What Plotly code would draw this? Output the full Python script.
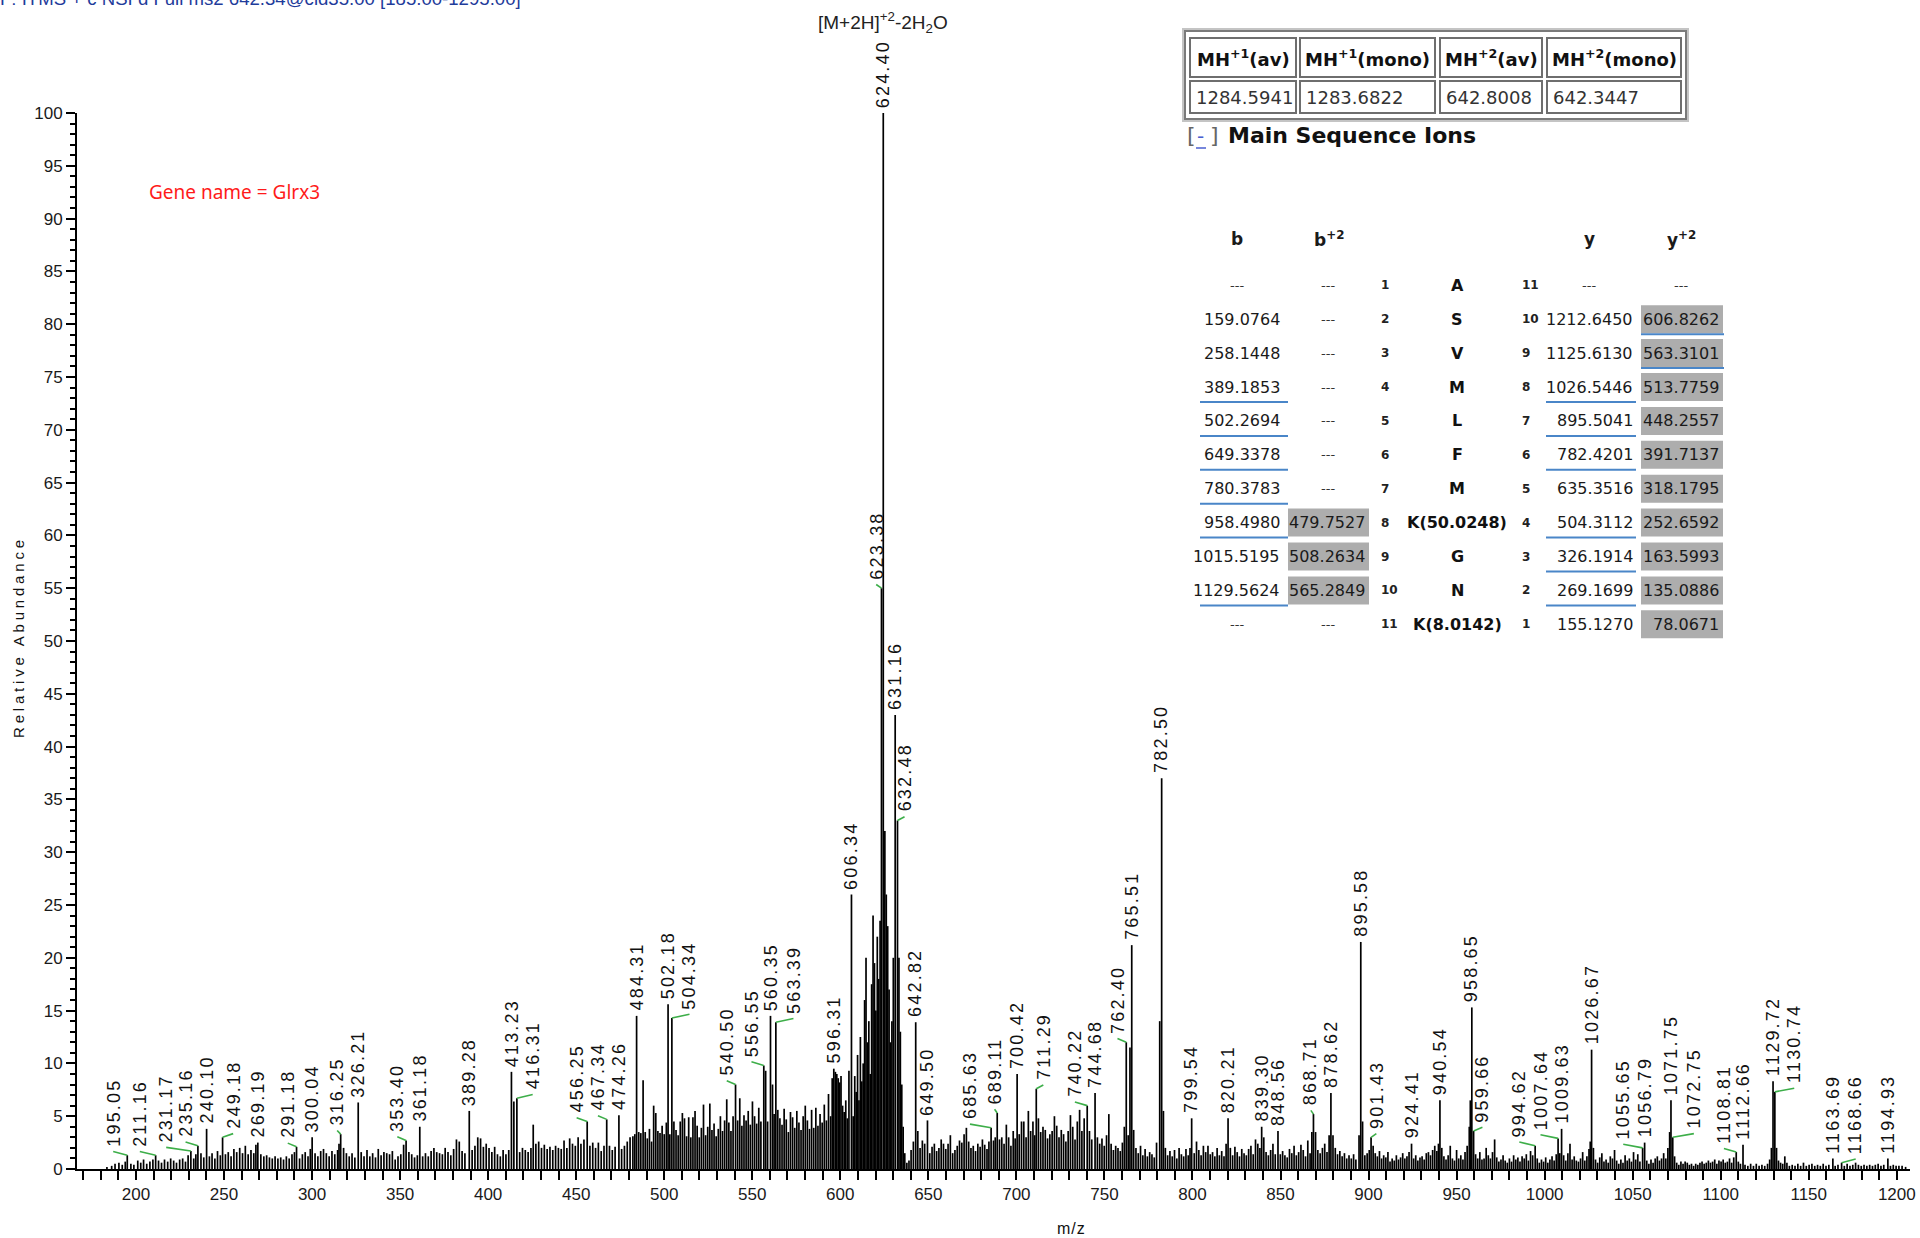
import plotly.graph_objects as go

# ---------------------------------------------------------------------------
# MS/MS spectrum (centroid sticks): (m/z, relative abundance) grouped by range
# ---------------------------------------------------------------------------
peaks_180_330 = [
    (183.5, 0.2), (186.2, 0.3), (188.1, 0.5), (190.3, 0.6), (192.2, 0.4), (193.9, 0.7),
    (195.05, 1.3), (197.1, 0.5), (198.8, 0.4), (201.0, 0.8), (202.7, 0.6), (204.3, 0.9),
    (206.1, 0.5), (207.9, 0.7), (209.6, 0.9), (211.16, 1.3), (212.8, 0.8), (214.5, 0.6),
    (216.2, 0.9), (218.0, 0.7), (219.7, 1.0), (221.4, 0.8), (223.0, 0.6), (224.8, 0.9),
    (226.5, 1.0), (228.1, 0.7), (229.6, 1.3), (231.17, 1.7), (232.8, 1.0), (234.0, 1.4),
    (235.16, 2.2), (236.9, 1.5), (238.5, 1.1), (240.10, 3.8), (241.7, 1.2), (243.2, 1.5),
    (244.8, 1.0), (246.3, 1.7), (247.9, 1.3), (249.18, 3.0), (250.8, 1.4), (252.4, 1.6),
    (254.0, 1.2), (255.6, 1.9), (257.2, 1.6), (258.9, 2.0), (260.5, 1.5), (262.1, 2.2),
    (263.7, 1.4), (265.3, 1.8), (266.9, 1.5), (268.1, 2.3), (269.19, 2.5), (270.9, 1.4),
    (272.6, 1.2), (274.2, 1.3), (275.8, 1.1), (277.4, 1.0), (279.0, 1.2), (280.6, 1.0),
    (282.2, 1.1), (283.8, 0.9), (285.4, 1.2), (287.0, 1.0), (288.6, 1.4), (290.0, 1.6),
    (291.18, 2.1), (292.9, 1.0), (294.5, 1.4), (296.1, 1.6), (297.7, 1.2), (299.0, 1.9),
    (300.04, 3.0), (301.7, 1.5), (303.3, 1.2), (304.9, 1.7), (306.5, 1.9), (308.1, 1.5),
    (309.7, 1.2), (311.3, 1.7), (312.9, 1.4), (314.5, 1.8), (315.3, 2.4), (316.25, 3.3),
    (317.9, 2.0), (319.5, 1.5), (321.1, 1.2), (322.7, 1.5), (324.3, 1.1), (326.21, 6.3),
    (327.9, 1.6), (329.5, 1.2),
]

peaks_330_484 = [
    (331.2, 1.8), (332.8, 1.2), (334.4, 1.5), (336.0, 1.1), (337.6, 1.9), (339.2, 1.3),
    (340.8, 1.6), (342.4, 1.5), (344.0, 1.4), (345.6, 1.7), (347.2, 0.9), (348.8, 1.2),
    (350.4, 1.4), (352.0, 2.3), (353.40, 2.7), (355.0, 1.6), (356.6, 1.4), (358.2, 1.1),
    (359.8, 1.3), (361.18, 4.0), (362.8, 1.2), (364.4, 1.5), (366.0, 1.2), (367.6, 1.7),
    (369.2, 2.0), (370.8, 1.6), (372.4, 1.5), (374.0, 1.4), (375.6, 2.0), (377.2, 1.6),
    (378.8, 1.3), (380.4, 1.9), (382.0, 2.8), (383.6, 2.6), (385.2, 1.7), (386.8, 1.5),
    (389.28, 5.5), (390.9, 1.8), (392.5, 2.2), (394.1, 3.0), (395.7, 2.9), (397.3, 2.1),
    (398.9, 2.4), (400.5, 2.0), (402.1, 1.6), (403.7, 2.1), (405.3, 1.4), (406.9, 1.2),
    (408.5, 1.8), (410.1, 1.4), (411.7, 1.8), (413.23, 9.2), (414.6, 6.4), (416.31, 6.7),
    (417.9, 1.6), (419.5, 2.0), (421.1, 1.8), (422.7, 1.6), (424.3, 2.0), (425.6, 4.2),
    (427.1, 2.4), (428.7, 2.6), (430.3, 2.0), (431.9, 2.3), (433.5, 1.9), (435.1, 2.1),
    (436.7, 1.8), (438.3, 2.2), (439.9, 2.0), (441.5, 1.9), (443.1, 2.7), (444.7, 2.0),
    (446.3, 2.9), (447.9, 2.4), (449.5, 2.2), (451.1, 3.0), (452.7, 2.4), (454.4, 2.8),
    (456.25, 4.5), (457.8, 2.2), (459.4, 2.5), (461.0, 2.0), (462.6, 2.5), (464.2, 1.7),
    (465.8, 2.2), (467.34, 4.7), (468.9, 2.2), (470.5, 1.8), (472.1, 2.1), (474.26, 5.1),
    (475.8, 1.9), (477.4, 2.2), (479.0, 2.6), (480.6, 3.0), (482.2, 3.1), (483.3, 3.3),
]

peaks_484_596 = [
    (484.31, 14.5), (485.5, 3.5), (486.7, 3.4), (488.0, 8.4), (489.2, 3.5), (490.4, 2.9),
    (491.6, 3.8), (492.8, 2.6), (494.0, 6.0), (495.2, 5.3), (496.4, 3.6), (497.6, 3.4),
    (498.8, 4.1), (500.0, 3.3), (501.2, 4.4), (502.18, 15.6), (503.2, 3.3), (504.34, 14.3),
    (505.5, 4.5), (506.7, 3.7), (507.9, 3.2), (509.1, 4.5), (510.3, 5.3), (511.5, 4.8),
    (512.7, 3.1), (513.9, 4.9), (515.1, 3.0), (516.3, 4.9), (517.5, 5.5), (518.7, 4.1),
    (519.9, 3.0), (521.1, 3.9), (522.3, 6.1), (523.5, 3.2), (524.7, 4.0), (525.9, 6.2),
    (527.1, 3.7), (528.3, 4.3), (529.5, 3.1), (530.7, 3.8), (531.9, 5.0), (533.1, 3.6),
    (534.3, 4.6), (535.5, 6.6), (536.7, 4.4), (537.9, 3.6), (539.1, 5.0), (540.50, 8.0),
    (541.7, 4.6), (542.9, 6.7), (544.1, 4.1), (545.3, 5.1), (546.5, 4.6), (547.7, 5.5),
    (548.9, 4.2), (550.1, 6.4), (551.3, 5.0), (552.5, 4.3), (553.7, 5.8), (554.9, 4.5),
    (556.55, 9.8), (557.6, 9.3), (558.7, 4.5), (560.35, 14.5), (561.5, 8.0), (562.4, 5.2),
    (563.39, 13.9), (564.5, 5.6), (565.7, 4.8), (566.9, 4.2), (568.1, 5.7), (569.3, 4.7),
    (570.5, 3.5), (571.7, 5.4), (572.9, 4.9), (574.1, 3.9), (575.3, 5.5), (576.5, 4.4),
    (577.7, 3.7), (578.9, 5.0), (580.1, 6.0), (581.3, 4.6), (582.5, 3.8), (583.7, 5.6),
    (584.9, 3.9), (586.1, 5.8), (587.3, 4.1), (588.5, 5.2), (589.7, 4.4), (590.9, 6.1),
    (592.1, 4.6), (593.3, 7.1), (594.5, 5.0), (595.4, 8.6),
]

peaks_596_642 = [
    (596.31, 9.5), (597.2, 9.2), (598.0, 9.0), (598.8, 8.6), (599.6, 8.2), (600.4, 8.8),
    (601.3, 6.0), (602.2, 5.4), (603.1, 6.5), (604.0, 4.8), (604.9, 9.3), (606.34, 26.0),
    (607.3, 5.0), (608.2, 8.8), (609.0, 7.3), (609.8, 10.8), (610.6, 6.5), (611.4, 12.5),
    (612.2, 8.3), (613.0, 10.0), (613.8, 16.0), (614.6, 20.0), (615.4, 12.0), (616.2, 14.0),
    (617.0, 9.0), (617.8, 17.5), (618.6, 24.0), (619.4, 19.5), (620.2, 15.0), (621.0, 22.0),
    (621.8, 18.0), (622.6, 23.5), (623.38, 55.0), (624.40, 100.0), (625.3, 32.0),
    (626.1, 26.0), (626.9, 23.0), (627.7, 17.0), (628.5, 12.0), (629.3, 14.0), (630.1, 20.0),
    (631.16, 43.0), (632.48, 33.0), (633.3, 20.0), (634.1, 13.0), (634.9, 8.0), (635.7, 4.0),
    (636.6, 1.5), (637.8, 0.6), (639.0, 0.8), (640.2, 1.8), (641.5, 2.6),
]

peaks_642_762 = [
    (642.82, 13.9), (644.0, 3.6), (645.3, 2.0), (646.6, 2.7), (647.9, 2.4), (649.50, 4.6),
    (650.8, 1.5), (652.1, 2.1), (653.4, 2.4), (654.7, 1.7), (656.0, 2.0), (657.3, 2.8),
    (658.6, 2.4), (659.9, 1.9), (661.2, 2.4), (662.5, 3.2), (663.8, 1.5), (665.1, 1.8),
    (666.4, 2.2), (667.7, 2.7), (669.0, 2.5), (670.3, 3.3), (671.6, 3.9), (672.9, 2.6),
    (674.2, 2.0), (675.5, 2.2), (676.8, 1.7), (678.1, 2.4), (679.4, 2.1), (680.7, 2.8),
    (682.0, 2.3), (683.3, 1.9), (684.4, 2.6), (685.63, 3.9), (687.0, 2.7), (688.0, 3.0),
    (689.11, 5.3), (690.4, 2.8), (691.7, 3.0), (693.0, 2.4), (694.3, 4.2), (695.6, 3.0),
    (696.9, 2.2), (698.2, 3.6), (699.3, 2.9), (700.42, 9.0), (701.6, 3.3), (702.9, 4.5),
    (704.2, 4.5), (705.5, 3.0), (706.8, 5.5), (708.1, 3.6), (709.4, 4.5), (710.4, 3.2),
    (711.29, 7.6), (712.5, 4.8), (713.8, 3.5), (715.1, 4.0), (716.4, 3.7), (717.7, 2.9),
    (719.0, 3.3), (720.3, 3.6), (721.6, 5.0), (722.9, 4.1), (724.2, 3.0), (725.5, 3.7),
    (726.8, 3.3), (728.1, 2.6), (729.4, 3.6), (730.7, 5.1), (732.0, 4.0), (733.3, 2.8),
    (734.6, 4.5), (735.9, 5.6), (737.2, 3.6), (738.5, 4.8), (740.22, 6.0), (741.5, 3.6),
    (742.8, 2.8), (744.68, 7.2), (746.0, 3.0), (747.3, 2.4), (748.6, 2.9), (749.9, 2.2),
    (751.2, 3.2), (752.5, 5.2), (753.8, 2.4), (755.1, 1.8), (756.4, 2.2), (757.7, 2.0),
    (759.0, 1.7), (760.2, 2.5), (761.3, 4.0),
]

peaks_762_901 = [
    (762.40, 12.0), (763.5, 3.2), (764.5, 11.5), (765.51, 21.2), (766.6, 3.7), (767.9, 2.0),
    (769.2, 1.5), (770.5, 2.2), (771.8, 1.3), (773.1, 1.9), (774.4, 1.2), (775.7, 1.6),
    (777.0, 1.4), (778.3, 1.1), (779.6, 2.5), (781.4, 14.0), (782.50, 37.0), (783.5, 5.5),
    (784.6, 2.0), (785.9, 1.3), (787.2, 1.7), (788.5, 1.2), (789.8, 1.8), (791.1, 1.0),
    (792.4, 2.0), (793.7, 1.4), (795.0, 1.2), (796.3, 1.9), (797.6, 1.3), (798.6, 2.0),
    (799.54, 4.8), (801.0, 1.5), (802.3, 2.6), (803.6, 1.8), (804.9, 1.3), (806.2, 2.2),
    (807.5, 1.6), (808.8, 2.2), (810.1, 1.4), (811.4, 1.6), (812.7, 1.2), (814.0, 2.0),
    (815.3, 1.3), (816.6, 1.7), (817.9, 1.2), (819.1, 2.4), (820.21, 4.8), (821.5, 2.0),
    (822.8, 1.3), (824.1, 2.1), (825.4, 1.6), (826.7, 1.2), (828.0, 1.9), (829.3, 1.5),
    (830.6, 1.3), (831.9, 1.9), (833.2, 2.2), (834.5, 1.4), (835.8, 2.8), (837.1, 2.4),
    (838.3, 2.0), (839.30, 4.0), (840.5, 3.0), (841.8, 1.6), (843.1, 1.3), (844.4, 1.8),
    (845.7, 2.4), (847.0, 1.4), (848.56, 3.6), (849.9, 1.4), (851.2, 1.7), (852.5, 1.3),
    (853.8, 1.1), (855.1, 1.9), (856.4, 1.5), (857.7, 2.2), (859.0, 1.3), (860.3, 1.6),
    (861.6, 2.3), (862.9, 1.8), (864.2, 1.2), (865.5, 2.7), (866.8, 1.5), (867.8, 3.5),
    (868.71, 5.2), (869.9, 3.5), (871.2, 1.8), (872.5, 1.5), (873.8, 2.0), (875.1, 2.4),
    (876.4, 1.6), (877.6, 3.2), (878.62, 7.2), (879.8, 3.2), (881.1, 2.0), (882.4, 1.4),
    (883.7, 1.7), (885.0, 1.2), (886.3, 1.5), (887.6, 1.0), (888.9, 1.3), (890.2, 1.0),
    (891.5, 1.4), (892.8, 0.9), (894.6, 3.2), (895.58, 21.5), (896.6, 4.5), (897.9, 1.3),
    (899.2, 1.5), (900.4, 1.8),
]

peaks_901_1010 = [
    (901.43, 3.0), (902.6, 2.2), (903.8, 1.5), (905.0, 1.2), (906.2, 1.7), (907.4, 1.0),
    (908.6, 1.3), (909.8, 1.1), (911.0, 1.6), (912.2, 0.7), (913.4, 1.0), (914.6, 0.8),
    (915.8, 1.3), (917.0, 0.9), (918.2, 1.1), (919.4, 1.5), (920.6, 1.0), (921.8, 1.2),
    (923.0, 1.6), (924.41, 2.4), (925.6, 1.0), (926.8, 1.3), (928.0, 0.8), (929.2, 1.1),
    (930.4, 1.2), (931.6, 0.9), (932.8, 1.5), (934.0, 1.6), (935.2, 1.3), (936.4, 1.8),
    (937.6, 2.2), (938.8, 1.7), (939.7, 2.4), (940.54, 6.5), (941.6, 2.0), (942.8, 1.2),
    (944.0, 0.9), (945.2, 1.3), (946.4, 2.2), (947.6, 1.0), (948.8, 0.8), (950.0, 1.8),
    (951.2, 1.0), (952.4, 1.3), (953.6, 0.9), (954.8, 1.6), (956.0, 2.2), (957.2, 4.0),
    (957.8, 6.5), (958.65, 15.3), (959.66, 3.6), (960.8, 1.4), (962.0, 1.0), (963.2, 1.6),
    (964.4, 0.9), (965.6, 1.0), (966.8, 2.0), (968.0, 1.3), (969.2, 1.0), (970.4, 1.6),
    (971.6, 2.8), (972.8, 1.1), (974.0, 0.7), (975.2, 0.9), (976.4, 1.3), (977.6, 0.8),
    (978.8, 0.6), (980.0, 1.0), (981.2, 0.7), (982.4, 1.3), (983.6, 0.9), (984.8, 1.1),
    (986.0, 0.7), (987.2, 1.2), (988.4, 1.0), (989.6, 1.4), (990.8, 0.8), (992.0, 1.7),
    (993.2, 1.3), (994.62, 2.2), (995.8, 1.0), (997.0, 0.6), (998.2, 0.9), (999.4, 0.7),
    (1000.6, 1.1), (1001.8, 0.6), (1003.0, 0.9), (1004.2, 1.2), (1005.4, 0.8), (1006.6, 1.4),
    (1007.64, 2.9), (1008.6, 1.5), (1009.63, 3.8),
]

peaks_1010_1210 = [
    (1010.8, 1.3), (1012.0, 0.8), (1013.2, 1.5), (1014.4, 2.4), (1015.6, 0.9), (1016.8, 1.2),
    (1018.0, 0.8), (1019.2, 0.7), (1020.4, 1.0), (1021.6, 1.6), (1022.8, 0.8), (1024.0, 1.2),
    (1025.2, 1.9), (1025.9, 2.6), (1026.67, 11.3), (1027.7, 2.0), (1028.9, 0.9), (1030.1, 0.6),
    (1031.3, 1.1), (1032.5, 1.5), (1033.7, 0.7), (1034.9, 0.9), (1036.1, 0.6), (1037.3, 1.2),
    (1038.5, 1.0), (1039.7, 1.8), (1040.9, 0.8), (1042.1, 0.5), (1043.3, 0.9), (1044.5, 0.6),
    (1045.7, 1.3), (1046.9, 0.8), (1048.1, 1.0), (1049.3, 0.7), (1050.5, 1.6), (1051.7, 0.9),
    (1052.9, 1.4), (1054.1, 0.7), (1055.65, 2.0), (1056.79, 2.5), (1058.0, 0.8), (1059.2, 0.5),
    (1060.4, 0.9), (1061.6, 0.6), (1062.8, 1.0), (1064.0, 1.2), (1065.2, 0.8), (1066.4, 1.0),
    (1067.6, 1.5), (1068.8, 1.0), (1070.0, 2.0), (1071.0, 3.5), (1071.75, 6.5), (1072.75, 3.0),
    (1073.8, 1.2), (1075.0, 0.6), (1076.2, 0.4), (1077.4, 0.7), (1078.6, 0.5), (1079.8, 0.7),
    (1081.0, 0.6), (1082.2, 0.4), (1083.4, 0.5), (1084.6, 0.3), (1085.8, 0.5), (1087.0, 0.4),
    (1088.2, 0.6), (1089.4, 0.7), (1090.6, 0.5), (1091.8, 0.6), (1093.0, 0.8), (1094.2, 0.6),
    (1095.4, 0.7), (1096.6, 0.9), (1097.8, 0.5), (1099.0, 0.8), (1100.2, 0.7), (1101.4, 0.9),
    (1102.6, 0.6), (1103.8, 0.7), (1105.0, 1.0), (1106.2, 0.6), (1107.4, 1.1), (1108.81, 1.6),
    (1110.0, 0.7), (1111.2, 0.5), (1112.66, 2.3), (1113.8, 0.4), (1115.4, 0.3), (1117.0, 0.5),
    (1118.6, 0.3), (1120.2, 0.5), (1121.8, 0.3), (1123.4, 0.4), (1125.0, 0.3), (1126.6, 0.5),
    (1127.8, 0.9), (1128.8, 2.0), (1129.72, 8.3), (1130.74, 7.3), (1131.7, 2.0), (1132.8, 0.8),
    (1134.0, 0.6), (1135.2, 0.5), (1136.4, 1.2), (1137.6, 0.6), (1139.0, 0.3), (1140.6, 0.4),
    (1142.2, 0.3), (1143.8, 0.5), (1145.4, 0.3), (1147.0, 0.6), (1148.6, 0.3), (1150.2, 0.4),
    (1151.8, 0.5), (1153.4, 0.3), (1155.0, 0.4), (1156.6, 0.3), (1158.2, 0.5), (1159.8, 0.3),
    (1161.4, 0.4), (1163.69, 1.0), (1165.0, 0.3), (1166.6, 0.4), (1168.66, 0.6), (1170.2, 0.3),
    (1171.8, 0.5), (1173.4, 0.3), (1175.0, 0.4), (1176.6, 0.6), (1178.2, 0.4), (1179.8, 0.3),
    (1181.4, 0.4), (1183.0, 0.3), (1184.6, 0.4), (1186.2, 0.3), (1187.8, 0.4), (1189.4, 0.5),
    (1191.0, 0.3), (1192.6, 0.4), (1194.93, 1.0), (1196.4, 0.3), (1198.0, 0.4), (1199.6, 0.3),
    (1201.2, 0.3), (1203.0, 0.3), (1205.0, 0.2),
]

# peaks annotated with their m/z
labeled_mz = [
    195.05, 211.16, 231.17, 235.16, 240.10, 249.18, 269.19, 291.18, 300.04, 316.25, 326.21,
    353.40, 361.18, 389.28, 413.23, 416.31, 456.25, 467.34, 474.26, 484.31, 502.18, 504.34,
    540.50, 556.55, 560.35, 563.39, 596.31, 606.34, 623.38, 624.40, 631.16, 632.48, 642.82,
    649.50, 685.63, 689.11, 700.42, 711.29, 740.22, 744.68, 762.40, 765.51, 782.50, 799.54,
    820.21, 839.30, 848.56, 868.71, 878.62, 895.58, 901.43, 924.41, 940.54, 958.65, 959.66,
    994.62, 1007.64, 1009.63, 1026.67, 1055.65, 1056.79, 1071.75, 1072.75, 1108.81, 1112.66,
    1129.72, 1130.74, 1163.69, 1168.66, 1194.93,
]

# labels that are pushed sideways and tied back to their peak (offset in m/z)
label_offset = {
    195.05: -8, 211.16: -9, 231.17: -14, 235.16: -7, 249.18: 6, 291.18: -5, 316.25: -2,
    353.40: -5, 416.31: 9, 456.25: -6, 467.34: -5, 504.34: 10, 540.50: -5, 556.55: -7,
    563.39: 10, 623.38: -3, 632.48: 4, 685.63: -12, 689.11: -1.5, 711.29: 4, 740.22: -7,
    762.40: -5, 868.71: -1.5, 901.43: 3, 959.66: 5, 994.62: -9, 1007.64: -10, 1055.65: -11,
    1072.75: 12, 1108.81: -7, 1130.74: 11, 1168.66: 8,
}

# precursor summary table
mh_headers = ["MH<sup>+1</sup>(av)", "MH<sup>+1</sup>(mono)", "MH<sup>+2</sup>(av)", "MH<sup>+2</sup>(mono)"]
mh_values = [1284.5941, 1283.6822, 642.8008, 642.3447]

# fragment ion table for A S V M L F M K G N K
residues = ["A", "S", "V", "M", "L", "F", "M", "K(50.0248)", "G", "N", "K(8.0142)"]
b_ions = [None, 159.0764, 258.1448, 389.1853, 502.2694, 649.3378, 780.3783, 958.4980, 1015.5195, 1129.5624, None]
b2_ions = [None, None, None, None, None, None, None, 479.7527, 508.2634, 565.2849, None]
y_ions = [None, 1212.6450, 1125.6130, 1026.5446, 895.5041, 782.4201, 635.3516, 504.3112, 326.1914, 269.1699, 155.1270]
y2_ions = [None, 606.8262, 563.3101, 513.7759, 448.2557, 391.7137, 318.1795, 252.6592, 163.5993, 135.0886, 78.0671]
b_matched = [3, 4, 5, 6, 7, 9]
y_matched = [3, 4, 5, 7, 8, 9]
y2_matched = [1, 2]

# ---------------------------------------------------------------------------
# geometry helpers
# ---------------------------------------------------------------------------
W, H = 1920, 1238
ML, MR, MT, MB = 77, 10, 113, 69
PW, PH = W - ML - MR, H - MT - MB


def fx(px):
    return (px - ML) / PW


def fy(py):
    return (H - MB - py) / PH


peaks = sorted(peaks_180_330 + peaks_330_484 + peaks_484_596 + peaks_596_642
               + peaks_642_762 + peaks_762_901 + peaks_901_1010 + peaks_1010_1210)
mz = [p[0] for p in peaks]
inten = [p[1] for p in peaks]
height_of = dict(zip(mz, inten))

xs, ys = [], []
for m, h in zip(mz, inten):
    xs += [m, m, None]
    ys += [0, h, None]

fig = go.Figure()
fig.add_trace(go.Scatter(x=xs, y=ys, mode="lines", line=dict(color="black", width=1.7),
                         hoverinfo="skip", showlegend=False))

annotations = []
shapes = []

LABEL_FONT = dict(family="Liberation Sans, Arial", size=18, color="#111111")
for m in labeled_mz:
    h = height_of[m]
    off = label_offset.get(m)
    lx = m + (off or 0)
    ly = h + (0.35 if off is not None else 0)
    if off is not None:
        shapes.append(dict(type="line", xref="x", yref="y", x0=m, y0=h, x1=lx, y1=ly,
                           line=dict(color="#3dae49", width=1.6)))
    annotations.append(dict(
        x=lx, y=ly, xref="x", yref="y", showarrow=False, textangle=-90,
        xanchor="center", yanchor="bottom", yshift=3,
        text=f'<span style="letter-spacing:2.2px">{m:.2f}</span>', font=LABEL_FONT))

# precursor ion assignment above the base peak
annotations.append(dict(x=624.40, y=fy(22), xref="x", yref="paper", showarrow=False,
                        xanchor="center", yanchor="middle",
                        text="[M+2H]<sup>+2</sup>-2H<sub>2</sub>O",
                        font=dict(family="Liberation Sans, Arial", size=19, color="#222222")))

# scan header (runs off the top edge)
annotations.append(dict(x=fx(-2), y=fy(-1.5), xref="paper", yref="paper", showarrow=False,
                        xanchor="left", yanchor="middle",
                        text="F: ITMS + c NSI d Full ms2 642.34@cid35.00 [185.00-1295.00]",
                        font=dict(family="Liberation Sans, Arial", size=18.6, color="#1f3c9b")))

annotations.append(dict(x=fx(147), y=fy(192), xref="paper", yref="paper", showarrow=False,
                        xanchor="left", yanchor="middle", text="Gene name = Glrx3",
                        font=dict(family="Noto Sans", size=19, color="#ff1a1a")))

annotations.append(dict(x=fx(18), y=fy(637), xref="paper", yref="paper", showarrow=False,
                        textangle=-90, xanchor="center", yanchor="middle",
                        text='<span style="letter-spacing:3.8px">Relative Abundance</span>',
                        font=dict(family="Liberation Sans, Arial", size=15, color="#111111")))
annotations.append(dict(x=fx(1071), y=fy(1228), xref="paper", yref="paper", showarrow=False,
                        xanchor="center", yanchor="middle",
                        text='<span style="letter-spacing:1px">m/z</span>',
                        font=dict(family="Liberation Sans, Arial", size=16, color="#111111")))

# ---------------------------------------------------------------------------
# precursor summary table
# ---------------------------------------------------------------------------
TFONT = "DejaVu Sans"


def rect(x0, y0, x1, y1, line_color=None, fill=None, width=2):
    shapes.append(dict(type="rect", xref="paper", yref="paper",
                       x0=fx(x0), x1=fx(x1), y0=fy(y1), y1=fy(y0),
                       line=dict(color=line_color or "rgba(0,0,0,0)", width=width if line_color else 0),
                       fillcolor=fill or "rgba(0,0,0,0)", layer="above"))


def hline(x0, x1, y, color, width=2):
    shapes.append(dict(type="line", xref="paper", yref="paper",
                       x0=fx(x0), x1=fx(x1), y0=fy(y), y1=fy(y),
                       line=dict(color=color, width=width), layer="above"))


def text(px, py, s, size=16, color="#1a1a1a", anchor="center", family=TFONT):
    annotations.append(dict(x=fx(px), y=fy(py), xref="paper", yref="paper", showarrow=False,
                            xanchor=anchor, yanchor="middle", text=s,
                            font=dict(family=family, size=size, color=color)))


rect(1183, 29, 1688, 121, "#c4c4c4", "white", 2)
rect(1185, 31, 1686, 119, "#7a7a7a", None, 2)
mh_cols = [(1190, 1296), (1300, 1435), (1440, 1542), (1547, 1681)]
for (c0, c1), head, val in zip(mh_cols, mh_headers, mh_values):
    rect(c0, 38, c1, 77, "#6e6e6e")
    rect(c0, 81, c1, 113, "#6e6e6e")
    text((c0 + c1) / 2, 58, f"<b>{head}</b>", size=18, color="#111111")
    text(c0 + 4, 97.5, f"{val:.4f}", size=18, color="#333333", anchor="left")

# section title with collapse toggle
text(1185, 136, "[", size=22, color="#666666", anchor="left")
text(1195, 136, "-", size=20, color="#4a5fd0", anchor="left")
hline(1196, 1206, 148, "#4a5fd0", 1.5)
text(1208, 136, "]", size=22, color="#666666", anchor="left")
text(1226, 136, "<b>Main Sequence Ions</b>", size=22, color="#111111", anchor="left")

# ---------------------------------------------------------------------------
# fragment ion table
# ---------------------------------------------------------------------------
HEAD_Y = 239
ROW_Y0, ROW_DY = 285.3, 33.9
GRAY = "#adadad"
BLUE = "#4a86c8"

text(1237, HEAD_Y, "<b>b</b>", size=17)
text(1329, HEAD_Y, "<b>b<sup>+2</sup></b>", size=17)
text(1589, HEAD_Y, "<b>y</b>", size=17)
text(1681, HEAD_Y, "<b>y<sup>+2</sup></b>", size=17)


def fmt(v):
    return "---" if v is None else f"{v:.4f}"


n = len(residues)
for i in range(n):
    cy = ROW_Y0 + i * ROW_DY
    if b2_ions[i] is not None:
        rect(1288, cy - 14, 1369, cy + 14, None, GRAY)
    if y2_ions[i] is not None:
        rect(1641, cy - 14, 1723, cy + 14, None, GRAY)
    if i in b_matched:
        hline(1200, 1288, cy + 15, BLUE)
    if i in y_matched:
        hline(1546, 1636, cy + 15, BLUE)
    if i in y2_matched:
        hline(1641, 1724, cy + 15, BLUE)

    for val, right, centre in ((b_ions[i], 1282, 1237), (b2_ions[i], 1367, 1328),
                               (y_ions[i], 1635, 1589), (y2_ions[i], 1721, 1681)):
        if val is None:
            text(centre, cy, "---", size=13, color="#333333")
        else:
            text(right, cy, fmt(val), size=16, color="#1a1a1a", anchor="right")

    text(1379, cy, f"<b>{i + 1}</b>", size=12, color="#222222", anchor="left")
    text(1457, cy, f"<b>{residues[i]}</b>", size=16, color="#111111")
    text(1520, cy, f"<b>{n - i}</b>", size=12, color="#222222", anchor="left")

TICK_FONT = dict(family="Liberation Sans, Arial", size=17, color="#1a1a1a")

fig.update_layout(
    width=W, height=H,
    margin=dict(l=ML, r=MR, t=MT, b=MB, pad=0, autoexpand=False),
    paper_bgcolor="white", plot_bgcolor="white",
    showlegend=False,
    annotations=annotations,
    shapes=shapes,
    xaxis=dict(range=[166.5, 1207.5], tick0=0, dtick=50, ticks="outside", ticklen=9,
               tickwidth=1.5, tickcolor="black", showline=True, linecolor="black",
               linewidth=2, showgrid=False, zeroline=False, tickfont=TICK_FONT,
               automargin=False,
               minor=dict(dtick=10, ticks="outside", ticklen=9, tickwidth=1.5,
                          tickcolor="black", showgrid=False)),
    yaxis=dict(range=[0, 100], tick0=0, dtick=5, ticks="outside", ticklen=9,
               tickwidth=1.5, tickcolor="black", showline=True, linecolor="black",
               linewidth=2, showgrid=False, zeroline=False, tickfont=TICK_FONT,
               automargin=False,
               minor=dict(dtick=1, ticks="outside", ticklen=5, tickwidth=1.5,
                          tickcolor="black", showgrid=False)),
)

fig.write_html("out.html")
